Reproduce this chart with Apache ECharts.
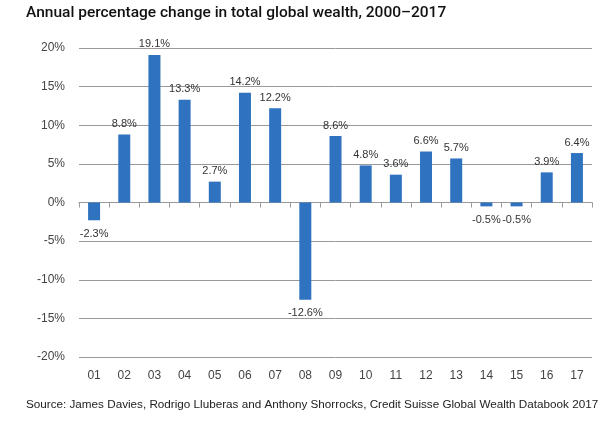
<!DOCTYPE html>
<html><head><meta charset="utf-8">
<script src="https://cdn.jsdelivr.net/npm/echarts@6/dist/echarts.min.js"></script>
<style>html,body{margin:0;padding:0;background:#fff}#c{width:614px;height:433px}</style>
</head><body><div id="c"></div>
<script>
const categories = ['01','02','03','04','05','06','07','08','09','10','11','12','13','14','15','16','17'];
const values = [-2.3, 8.8, 19.1, 13.3, 2.7, 14.2, 12.2, -12.6, 8.6, 4.8, 3.6, 6.6, 5.7, -0.5, -0.5, 3.9, 6.4];
const titleText = 'Annual percentage change in total global wealth, 2000–2017';
const sourceText = 'Source: James Davies, Rodrigo Lluberas and Anthony Shorrocks, Credit Suisse Global Wealth Databook 2017';

const chart = echarts.init(document.getElementById('c'), null, {renderer: 'canvas'});
const font = 'Liberation Sans, Arial, sans-serif';
chart.setOption({
  animation: false,
  title: {text: titleText, left: 21, top: 0,
    textStyle: {fontFamily: 'Roboto, sans-serif', fontSize: 15.5, fontWeight: 500, color: '#111'}},
  graphic: [{type: 'text', left: 26, top: 399,
    style: {text: sourceText, fontFamily: font, fontSize: 11.7, fill: '#222'}}],
  grid: {left: 79, right: 22, top: 48, bottom: 76, containLabel: false},
  xAxis: [
    {type: 'category', data: categories, position: 'bottom',
     axisLine: {show: false}, axisTick: {show: false},
     axisLabel: {fontFamily: font, fontSize: 12, color: '#444', margin: 13}},
    {type: 'category', data: categories, position: 'bottom',
     axisLine: {show: true, onZero: true, onZeroAxisIndex: 0, lineStyle: {color: '#999', width: 1}},
     axisTick: {show: true, length: 5, lineStyle: {color: '#999'}},
     axisLabel: {show: false}}
  ],
  yAxis: {type: 'value', min: -20, max: 20, interval: 5,
    axisLine: {show: false}, axisTick: {show: false},
    axisLabel: {formatter: '{value}%', fontFamily: font, fontSize: 12, color: '#444', margin: 14},
    splitLine: {lineStyle: {color: '#999', width: 1}}},
  series: [{type: 'bar', xAxisIndex: 0, barWidth: 12,
    data: values.map(v => ({value: v,
      label: {position: v < 0 ? 'bottom' : 'top', distance: v < 0 ? 8 : 5}})),
    itemStyle: {color: '#2f72bf'},
    label: {show: true, formatter: p => p.value.toFixed(1) + '%',
      fontFamily: font, fontSize: 11, color: '#333'}
  }]
});
</script></body></html>
